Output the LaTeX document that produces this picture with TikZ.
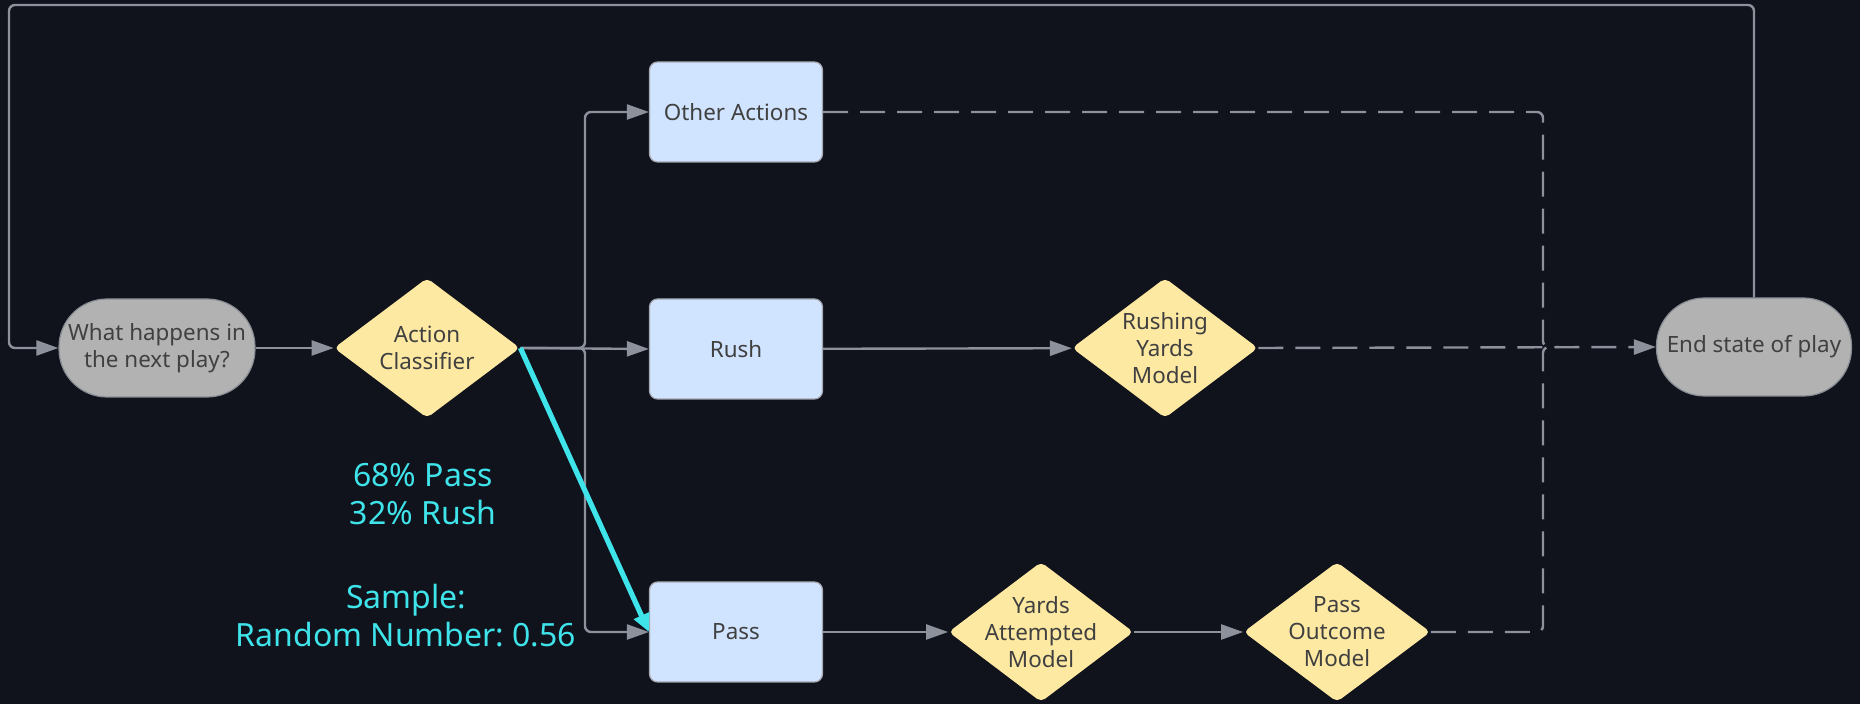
\documentclass[tikz,border=0pt]{standalone}
\usepackage{fontspec}
\setmainfont{Noto Sans}
\usetikzlibrary{shapes.geometric,arrows.meta}
\frenchspacing

\definecolor{bgcol}{HTML}{10121C}
\definecolor{linecol}{HTML}{8C919C}
\definecolor{boxfill}{HTML}{D0E4FF}
\definecolor{diafill}{HTML}{FEE9A3}
\definecolor{termfill}{HTML}{B2B2B2}
\definecolor{txtcol}{HTML}{404040}
\definecolor{hilite}{HTML}{3FE4EA}

\tikzset{
  nodetext/.style={font=\fontsize{11.2}{13.5}\selectfont, text=txtcol, align=center},
  actionbox/.style={rectangle, rounded corners=4pt, draw=linecol!80, line width=0.6pt,
    fill=boxfill, minimum width=86.5pt, minimum height=50pt, nodetext},
  terminal/.style={rectangle, rounded corners=24pt, draw=linecol!70!gray, line width=0.6pt,
    fill=termfill, minimum height=49pt, nodetext},
  model/.style={diamond, rounded corners=2.5pt, fill=diafill, inner sep=0pt,
    minimum height=70pt},
  dlabel/.style={nodetext, inner sep=0pt},
  flow/.style={draw=linecol, line width=1.2pt, rounded corners=3pt,
    -{Triangle[length=11pt,width=7.5pt]}},
  flowdash/.style={flow, dash pattern=on 12.5pt off 6pt},
  plain/.style={draw=linecol, line width=1.2pt, rounded corners=3pt},
  chosen/.style={draw=hilite, line width=2.6pt,
    -{Triangle[length=9pt,width=8pt]}},
  note/.style={font=\fontsize{16}{19}\selectfont, text=hilite, align=center}
}

\begin{document}
\begin{tikzpicture}[x=0.5pt,y=-0.5pt]
  % canvas
  \fill[bgcol] (0,0) rectangle (1860,704);
  \useasboundingbox (0,0) rectangle (1860,704);

  % start and end of a play
  \node[terminal, minimum width=98pt] (q) at (157,348) {What happens in\\the next play?};
  \node[terminal, minimum width=97.5pt] (end) at (1754,347) {End state of play};

  % classifier
  \node[model, minimum width=93pt,
        label={[dlabel]center:Action\\Classifier}] (ac) at (427,348) {};

  % action branches
  \node[actionbox] (oa) at (736,112) {Other Actions};
  \node[actionbox] (rush) at (736,349) {Rush};
  \node[actionbox] (pass) at (736,632) {Pass};

  % downstream models
  \node[model, minimum width=93pt,
        label={[dlabel]center:Rushing\\Yards\\Model}] (ry) at (1165,348) {};
  \node[model, minimum width=92.5pt,
        label={[dlabel]center:Yards\\Attempted\\Model}] (ya) at (1041,632) {};
  \node[model, minimum width=93.5pt,
        label={[dlabel]center:Pass\\Outcome\\Model}] (po) at (1337,632) {};

  % routing points
  \coordinate (split) at (585,348);
  \coordinate (merge) at (1543,347);
  \coordinate (topR) at (1754,5);
  \coordinate (topL) at (9,5);
  \coordinate (backL) at (9,348);

  % sampling notes
  \node[note] (probs) at (423,494) {68\% Pass\\32\% Rush};
  \node[note] (sample) at (406,616) {Sample:\\Random Number: 0.56};

  % solid connectors
  \draw[flow] (q) -- (ac);
  \draw[flow] (ac.east) -- (rush.west);
  \draw[flow] (ac.east) -- (split) |- (oa.west);
  \draw[flow] (ac.east) -- (split) |- (pass.west);
  \draw[flow] (rush) -- (ry);
  \draw[flow] (pass) -- (ya);
  \draw[flow] (ya) -- (po);

  % dashed connectors into the end state
  \draw[flowdash] (ry.east) -- (end.west);
  \draw[plain, dash pattern=on 12.5pt off 6pt] (oa.east) -| (merge) -- ([xshift=8pt]merge);
  \draw[plain, dash pattern=on 12.5pt off 6pt] (po.east) -| (merge) -- ([xshift=8pt]merge);

  % loop back to the next play
  \draw[flow] (end.north) -- (topR) -- (topL) -- (backL) -- (q.west);

  % sampled path
  \draw[chosen] (ac.east) -- (pass.west);
\end{tikzpicture}
\end{document}
